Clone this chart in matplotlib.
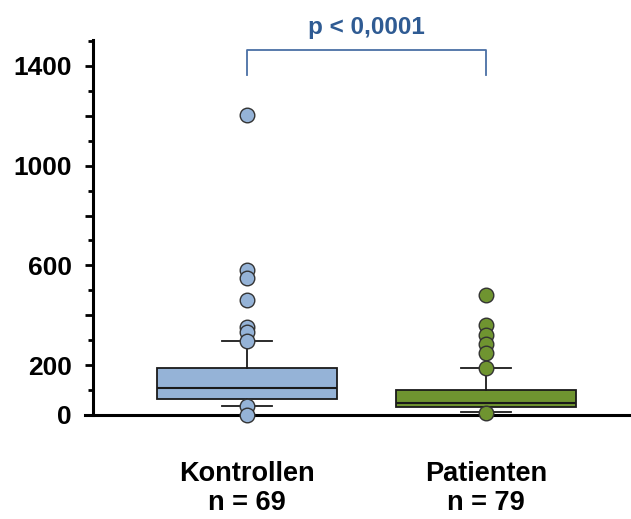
import matplotlib.pyplot as plt
import numpy as np

plt.rcParams['font.family'] = ['Liberation Sans', 'DejaVu Sans']

groups = ['Kontrollen\nn = 69', 'Patienten\nn = 79']
q1 = [64, 32]
median = [108, 48]
q3 = [190, 100]
whis_lo = [36, 12]
whis_hi = [295, 189]
fliers = [
    [1203, 582, 550, 461, 353, 333, 295, 36, 0],
    [481, 361, 321, 285, 249, 189, 8],
]
box_colors = ['#95b3d7', '#6f9430']
p_text = 'p < 0,0001'

fig = plt.figure(figsize=(6.31, 5.19), dpi=100)
ax = fig.add_axes([0.147, 0.2004, 0.853, 0.7225])

stats = []
for i in range(2):
    stats.append(dict(q1=q1[i], med=median[i], q3=q3[i], whislo=whis_lo[i],
                      whishi=whis_hi[i], fliers=fliers[i], label=groups[i]))

pos = [1, 2]
bp = ax.bxp(stats, positions=pos, widths=0.756, patch_artist=True,
            showfliers=False,
            boxprops=dict(edgecolor='#1a1a1a', linewidth=1.3),
            medianprops=dict(color='#1a1a1a', linewidth=1.5),
            whiskerprops=dict(color='#1a1a1a', linewidth=1.3),
            capprops=dict(color='#1a1a1a', linewidth=1.3),
            capwidths=0.21)
for patch, c in zip(bp['boxes'], box_colors):
    patch.set_facecolor(c)

# outliers drawn on top
for i in range(2):
    ax.plot([pos[i]] * len(fliers[i]), fliers[i], 'o', ms=10.5,
            mfc=box_colors[i], mec='#333333', mew=1.0, zorder=5, clip_on=False)

ax.set_xlim(0.353, 2.609)
ax.set_ylim(0, 1504)
ax.set_xticks(pos)
ax.set_xticklabels(groups, fontsize=19.5, fontweight='bold', linespacing=1.15)
ax.tick_params(axis='x', length=0, pad=33)

ax.set_yticks(np.arange(0, 1401, 200))
ax.set_yticklabels(['0', '200', '', '600', '', '1000', '', '1400'])
ax.set_yticks(np.arange(100, 1501, 200), minor=True)
ax.tick_params(axis='y', which='major', length=6, width=2, labelsize=19, pad=9)
ax.tick_params(axis='y', which='minor', length=3.5, width=2)
for lbl in ax.get_yticklabels():
    lbl.set_fontweight('bold')

ax.spines['right'].set_visible(False)
ax.spines['top'].set_visible(False)
ax.spines['left'].set_linewidth(2.2)
ax.spines['bottom'].set_linewidth(2.2)
ax.spines['bottom'].set_bounds(0.32, 2.609)

# significance bracket
ax.plot([1, 1, 2, 2], [1364, 1464, 1464, 1364], color='#4a6fa5', lw=1.3,
        clip_on=False)
ax.text(1.5, 1508, p_text, ha='center', va='bottom', fontsize=17.5,
        fontweight='bold', color='#2f5b93')

fig.savefig('out.png', dpi=100)
